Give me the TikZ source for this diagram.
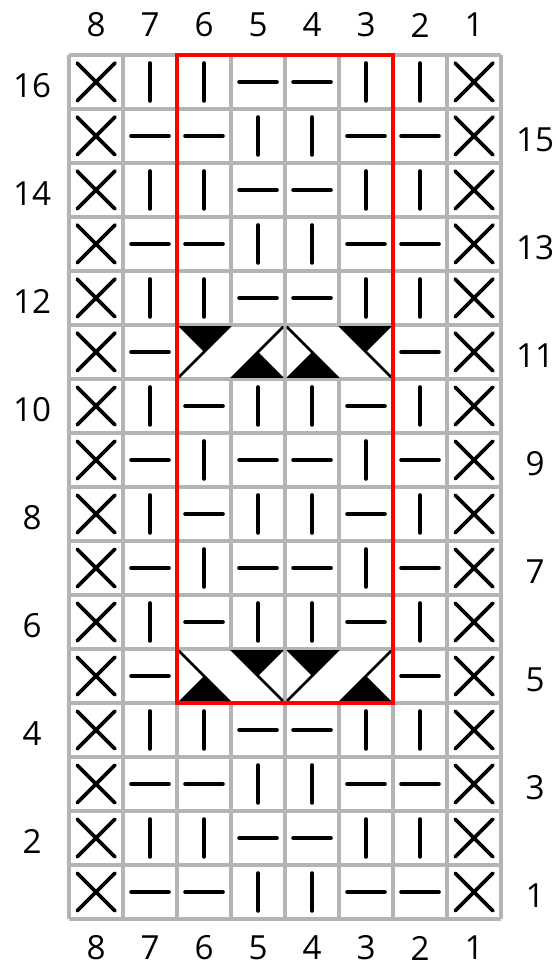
\documentclass[tikz,border=0pt]{standalone}
\usepackage{fontspec}
\setmainfont{Open Sans}
\usepackage{tikz}
\usepackage{xcolor}
\usetikzlibrary{positioning}
\definecolor{GridGrey}{HTML}{B4B4B4}
\definecolor{RepeatRed}{HTML}{FF0000}
\tikzset{
    numlabel/.style={font=\fontsize{17.5}{20}\selectfont, inner sep=0pt},
    gridline/.style={draw=GridGrey, line width=1.6pt},
    repeatbox/.style={draw=RepeatRed, line width=1.6pt},
    stitchline/.style={line width=2pt, line cap=round},
    cableline/.style={line width=1.4pt},
    pics/edgest/.style={code={
        \draw[stitchline] (0.15,0.15) -- (0.85,0.85) (0.15,0.85) -- (0.85,0.15);
    }},
    pics/knitst/.style={code={
        \draw[stitchline] (0.5,0.15) -- (0.5,0.85);
    }},
    pics/purlst/.style={code={
        \draw[stitchline] (0.15,0.5) -- (0.85,0.5);
    }},
    pics/cableup/.style={code={
        \fill[white] (0.03,0.03) rectangle (1.97,0.97);
        \begin{scope}
            \clip (0.03,0.03) rectangle (1.97,0.97);
            \fill (0,1) -- (1,1) -- (0.5,0.5) -- cycle;
            \fill (1,0) -- (2,0) -- (1.5,0.5) -- cycle;
            \draw[cableline] (0,0) -- (1,1) (1,0) -- (2,1);
        \end{scope}
    }},
    pics/cabledown/.style={code={
        \fill[white] (0.03,0.03) rectangle (1.97,0.97);
        \begin{scope}
            \clip (0.03,0.03) rectangle (1.97,0.97);
            \fill (0,0) -- (1,0) -- (0.5,0.5) -- cycle;
            \fill (1,1) -- (2,1) -- (1.5,0.5) -- cycle;
            \draw[cableline] (0,1) -- (1,0) (1,1) -- (2,0);
        \end{scope}
    }},
}

\begin{document}
\begin{tikzpicture}
    % Page with margins
    \useasboundingbox[fill=white] (-1.278,-1.0) rectangle (9.0,17.0185);

    % Chart grid
    \draw[gridline] (0,0) grid (8,16);

    % Plain rows
    \foreach \r in {16,14,12,4,2}
        \foreach \st [count=\c from 0] in {edgest,knitst,knitst,purlst,purlst,knitst,knitst,edgest}
            \pic at (\c,\r-1) {\st};
    \foreach \r in {15,13,3,1}
        \foreach \st [count=\c from 0] in {edgest,purlst,purlst,knitst,knitst,purlst,purlst,edgest}
            \pic at (\c,\r-1) {\st};
    \foreach \r in {10,8,6}
        \foreach \st [count=\c from 0] in {edgest,knitst,purlst,knitst,knitst,purlst,knitst,edgest}
            \pic at (\c,\r-1) {\st};
    \foreach \r in {9,7}
        \foreach \st [count=\c from 0] in {edgest,purlst,knitst,purlst,purlst,knitst,purlst,edgest}
            \pic at (\c,\r-1) {\st};

    % Cable rows 11 and 5
    \foreach \r in {11,5} {
        \pic at (0,\r-1) {edgest};
        \pic at (1,\r-1) {purlst};
        \pic at (6,\r-1) {purlst};
        \pic at (7,\r-1) {edgest};
    }
    \pic at (2,10) {cableup};
    \pic at (4,10) {cabledown};
    \pic at (2,4) {cabledown};
    \pic at (4,4) {cableup};

    % Pattern repeat
    \draw[repeatbox] (2,4) rectangle (6,16);

    % Stitch numbers
    \foreach \n [count=\c from 0] in {8,7,6,5,4,3,2,1} {
        \node[numlabel] (top\n) at (\c+0.5,16.555) {\n};
        \node[numlabel] (bot\n) at (\c+0.5,-0.537) {\n};
    }

    % Row numbers
    \foreach \r in {16,14,12,10,8,6,4,2}
        \node[numlabel] (left\r) at (-0.685,\r-0.57) {\r};
    \foreach \r in {15,13,11,9,7,5,3,1}
        \node[numlabel] (right\r) at (8.63,\r-0.57) {\r};
\end{tikzpicture}
\end{document}
